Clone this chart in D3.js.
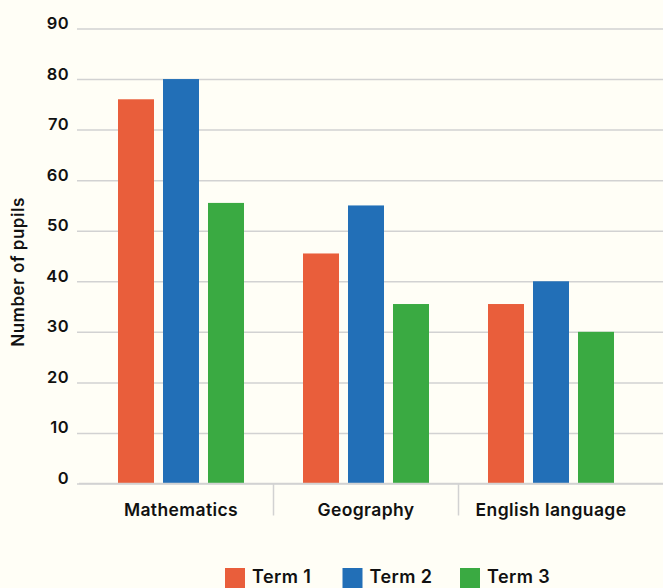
<!DOCTYPE html>
<html>
<head>
<meta charset="utf-8">
<script src="https://cdn.jsdelivr.net/npm/d3@7"></script>
<style>
  html, body { margin: 0; padding: 0; background: #fffef6; }
  svg { display: block; }
  text { font-family: Inter, "Open Sans", "DejaVu Sans", sans-serif; fill: #111; }
</style>
</head>
<body>
<svg id="chart" width="663" height="588"></svg>
<script>
const categories = ["Mathematics", "Geography", "English language"];
const seriesNames = ["Term 1", "Term 2", "Term 3"];
const term1 = [76, 45.5, 35.5];
const term2 = [80, 55, 40];
const term3 = [55.5, 35.5, 30];
const yTicks = [0, 10, 20, 30, 40, 50, 60, 70, 80, 90];
const yTitle = "Number of pupils";
const colors = ["#e95e3b", "#226fb7", "#3aaa42"];

const seriesValues = [term1, term2, term3];
const W = 663, H = 588;
const plotLeft = 77, plotRight = 663, plotTop = 28.5, plotBottom = 483.5;
const FONT = "Inter, 'Open Sans', sans-serif";

const svg = d3.select("#chart");
svg.append("rect").attr("width", W).attr("height", H).attr("fill", "#fffef6");

const y = d3.scaleLinear().domain([0, 90]).range([plotBottom, plotTop]);
const x0 = d3.scaleBand().domain(categories).range([88.5, 643.5]).padding(0);
const groupW = 126;
const x1 = d3.scaleBand().domain(seriesNames)
  .range([(x0.bandwidth() - groupW) / 2, (x0.bandwidth() + groupW) / 2])
  .paddingInner(0.2).paddingOuter(0);
const color = d3.scaleOrdinal().domain(seriesNames).range(colors);

// Y axis with gridlines
const yAxis = d3.axisLeft(y).tickValues(yTicks).tickSize(-(plotRight - plotLeft)).tickPadding(8);
const gy = svg.append("g").attr("transform", `translate(${plotLeft},0)`).call(yAxis);
gy.select(".domain").remove();
gy.selectAll(".tick line").attr("stroke", "#d2d2d2").attr("stroke-width", 1.5);
gy.selectAll(".tick text")
  .attr("dy", "0em")
  .attr("font-family", FONT)
  .attr("font-size", 16.5)
  .attr("font-weight", 600)
  .attr("letter-spacing", 0.4)
  .attr("fill", "#111");

// Bars
const data = categories.map((c, i) => ({ cat: c, vals: seriesNames.map((s, j) => ({ s, v: seriesValues[j][i] })) }));
const groups = svg.append("g").selectAll("g").data(data).join("g")
  .attr("transform", d => `translate(${x0(d.cat)},0)`);
groups.selectAll("rect").data(d => d.vals).join("rect")
  .attr("x", d => x1(d.s))
  .attr("width", x1.bandwidth())
  .attr("y", d => y(d.v))
  .attr("height", d => y(0) - y(d.v))
  .attr("fill", d => color(d.s));

// Baseline redraw on top
svg.append("line").attr("x1", plotLeft + 2).attr("x2", plotRight)
  .attr("y1", y(0)).attr("y2", y(0)).attr("stroke", "#d2d2d2").attr("stroke-width", 1.5);

// X axis category separators & labels
const xAxis = d3.axisBottom(x0).tickSize(0).tickPadding(0);
const gx = svg.append("g").attr("transform", `translate(0,${y(0)})`).call(xAxis);
gx.select(".domain").remove();
gx.selectAll(".tick text")
  .attr("y", 0).attr("dy", 32)
  .attr("font-family", FONT)
  .attr("font-size", 17.5)
  .attr("font-weight", 600)
  .attr("letter-spacing", 0.4)
  .attr("fill", "#111");
svg.append("g").selectAll("line").data(categories.slice(1)).join("line")
  .attr("x1", d => x0(d)).attr("x2", d => x0(d))
  .attr("y1", y(0)).attr("y2", y(0) + 32)
  .attr("stroke", "#d2d2d2").attr("stroke-width", 1.5);

// Y title
svg.append("text")
  .attr("transform", `translate(23.5,${(plotTop + plotBottom) / 2 + 16}) rotate(-90)`)
  .attr("text-anchor", "middle")
  .attr("font-size", 17)
  .attr("font-weight", 600)
  .attr("letter-spacing", 0.5)
  .text(yTitle);

// Legend
const lx = d3.scalePoint().domain(seriesNames).range([225, 460]);
const lg = svg.append("g").selectAll("g").data(seriesNames).join("g")
  .attr("transform", d => `translate(${lx(d)},568)`);
lg.append("rect").attr("width", 20).attr("height", 20).attr("fill", d => color(d));
lg.append("text").attr("x", 27).attr("y", 15)
  .attr("font-size", 18).attr("font-weight", 600).attr("letter-spacing", 0.4).text(d => d);
</script>
</body>
</html>
